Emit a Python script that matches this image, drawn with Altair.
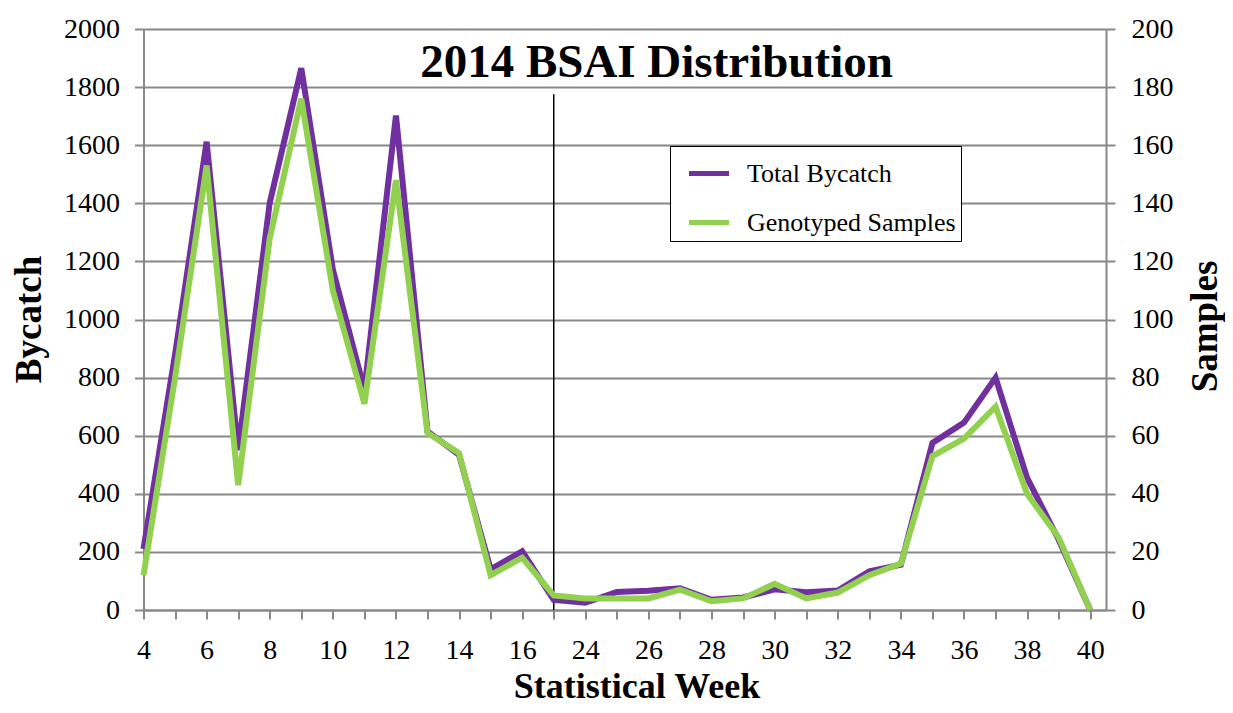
import altair as alt
import pandas as pd

# ---------------- data ----------------
weeks = ["4", "5", "6", "7", "8", "9", "10", "11", "12", "13", "14", "15", "16", "17",
         "24", "25", "26", "27", "28", "29", "30", "31", "32", "33", "34", "35", "36",
         "37", "38", "39", "40"]
total_bycatch = [210, 880, 1612, 550, 1402, 1865, 1172, 758, 1702, 615, 534, 140, 202, 35,
                 25, 62, 66, 75, 35, 43, 71, 61, 67, 133, 156, 575, 645, 800, 455, 242, 0]
genotyped_samples = [12, 80, 153, 43, 128, 176, 110, 71, 148, 61, 54, 12, 18, 5,
                     4, 4, 4, 7, 3, 4, 9, 4, 6, 12, 16, 53, 59, 70, 40, 25, 0]
series_names = ["Total Bycatch", "Genotyped Samples"]
series_colors = ["#7030A0", "#92D050"]
divider_week = ["17"]
divider_top = [1775]
chart_title = "2014 BSAI Distribution"

FONT = "Liberation Serif"
GRAY = "#888888"

df = pd.DataFrame({
    "idx": list(range(len(weeks))),
    "week": weeks,
    "bycatch": total_bycatch,
    "samples": genotyped_samples,
})
div_df = pd.DataFrame({"idx": [weeks.index(w) for w in divider_week],
                       "y0": [0] * len(divider_top), "y1": divider_top})

js_weeks = "[" + ",".join("'" + w + "'" for w in weeks) + "]"
label_expr = f"datum.value % 2 == 0 ? {js_weeks}[datum.value] : ''"

x_enc = alt.X(
    "idx:Q",
    scale=alt.Scale(domain=[0, len(weeks) - 0.5], nice=False, zero=False),
    axis=alt.Axis(
        values=list(range(len(weeks))), labelExpr=label_expr, grid=False,
        title="Statistical Week", titleFont=FONT, titleFontSize=36, titleFontWeight="bold",
        titleColor="black", titleX=493, titleY=87, titleBaseline="alphabetic",
        titleAlign="center",
        labelFont=FONT, labelFontSize=28, labelColor="black", labelPadding=17,
        labelOverlap=False, labelFlush=False,
        tickSize=9, tickWidth=2, tickColor=GRAY, domainColor=GRAY, domainWidth=2,
    ),
)

color_enc = alt.Color(
    "series:N",
    scale=alt.Scale(domain=series_names, range=series_colors),
    legend=alt.Legend(
        title=None, orient="none", legendX=526.5, legendY=117,
        strokeColor="black", fillColor="white", padding=5, rowPadding=13,
        symbolType="stroke", symbolSize=1600, symbolStrokeWidth=5, symbolOffset=11.5,
        labelOffset=15.5, labelFont=FONT, labelFontSize=26, labelColor="black",
        labelLimit=400,
    ),
)

left_axis = alt.Axis(
    values=list(range(0, 2001, 200)), orient="left", format="d",
    title="Bycatch", titleFont=FONT, titleFontSize=37, titleFontWeight="bold",
    titleColor="black", titleAngle=270, titleX=-114, titleY=290,
    titleBaseline="middle", titleAlign="center",
    labelFont=FONT, labelFontSize=28, labelColor="black", labelPadding=15,
    labelOverlap=False, labelFlush=False,
    tickSize=9, tickWidth=2, tickColor=GRAY, domainColor=GRAY, domainWidth=2,
    grid=True, gridColor=GRAY, gridWidth=2,
)
left_scale = alt.Scale(domain=[0, 2000], nice=False)

rule = alt.Chart(div_df).mark_rule(color="black", strokeWidth=1.5).encode(
    x=x_enc,
    y=alt.Y("y0:Q", scale=left_scale, axis=left_axis),
    y2="y1:Q",
)

purple = alt.Chart(df).transform_calculate(series="'Total Bycatch'").mark_line(
    strokeWidth=6
).encode(x=x_enc, y=alt.Y("bycatch:Q", scale=left_scale, axis=left_axis), color=color_enc)

title_text = alt.Chart(pd.DataFrame({"t": [chart_title]})).mark_text(
    font=FONT, fontSize=47, fontWeight="bold", color="black",
    align="center", baseline="alphabetic",
).encode(text="t:N", x=alt.value(513), y=alt.value(48))

green = alt.Chart(df).transform_calculate(series="'Genotyped Samples'").mark_line(
    strokeWidth=6
).encode(
    x=x_enc,
    y=alt.Y(
        "samples:Q",
        scale=alt.Scale(domain=[0, 200], nice=False),
        axis=alt.Axis(
            values=list(range(0, 201, 20)), orient="right", format="d",
            title="Samples", titleFont=FONT, titleFontSize=37, titleFontWeight="bold",
            titleColor="black", titleAngle=270, titleX=99, titleY=297,
            titleBaseline="middle", titleAlign="center",
            labelFont=FONT, labelFontSize=28, labelColor="black", labelPadding=16,
            labelOverlap=False, labelFlush=False,
            tickSize=9, tickWidth=2, tickColor=GRAY, domainColor=GRAY, domainWidth=2,
            grid=False,
        ),
    ),
    color=color_enc,
)

left = alt.layer(rule, purple, title_text)
chart = alt.layer(left, green).resolve_scale(y="independent").properties(
    width=962.5, height=581,
    autosize=alt.AutoSizeParams(type="none"),
    padding={"left": 135.5, "top": 21, "right": 119, "bottom": 95},
    background="white",
).configure_view(stroke=None)

chart.save("out.html", embed_options={"renderer": "svg", "actions": False})
